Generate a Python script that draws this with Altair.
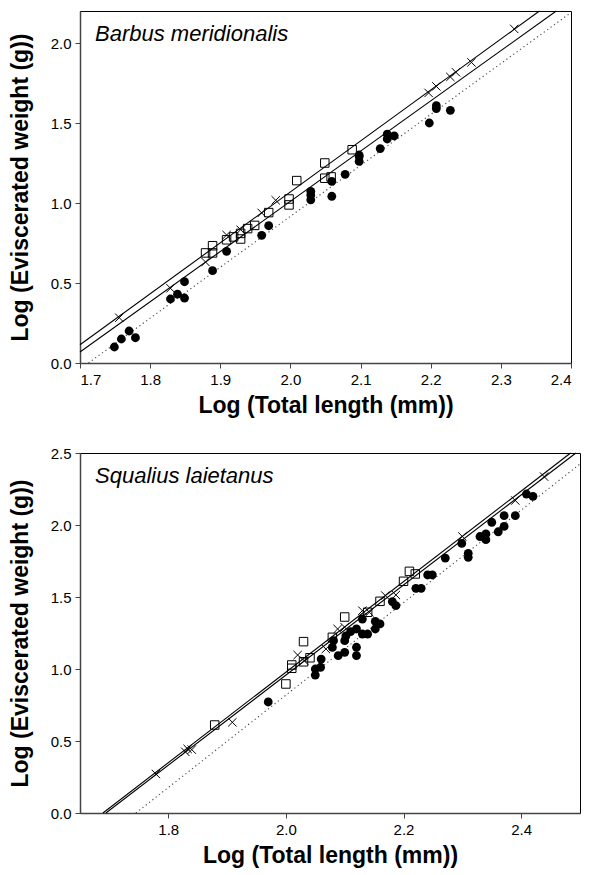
import altair as alt
import pandas as pd

# ---------------- Top panel: Barbus meridionalis ----------------
top_title = "Barbus meridionalis"
top_x_ticks = [1.7, 1.8, 1.9, 2.0, 2.1, 2.2, 2.3, 2.4]
top_y_ticks = [0.0, 0.5, 1.0, 1.5, 2.0]
top_x_domain = [1.7, 2.4]
top_y_domain = [0.0, 2.2]

top_circle_x = [1.749, 1.759, 1.770, 1.779, 1.829, 1.839, 1.849, 1.849, 1.889, 1.909,
                1.959, 1.969, 2.029, 2.029, 2.029, 2.059, 2.059, 2.078, 2.098, 2.098,
                2.098, 2.128, 2.138, 2.138, 2.148, 2.198, 2.208, 2.208, 2.228]
top_circle_y = [0.100, 0.150, 0.200, 0.158, 0.400, 0.430, 0.406, 0.508, 0.577, 0.698,
                0.798, 0.858, 1.073, 1.050, 1.020, 1.135, 1.042, 1.179, 1.300, 1.290,
                1.260, 1.340, 1.430, 1.400, 1.420, 1.500, 1.608, 1.590, 1.579]

top_square_x = [1.879, 1.889, 1.889, 1.909, 1.919, 1.929, 1.929, 1.939, 1.949, 1.969,
                1.998, 1.998, 2.009, 2.049, 2.049, 2.058, 2.088]
top_square_y = [0.688, 0.733, 0.688, 0.770, 0.788, 0.775, 0.810, 0.840, 0.860, 0.940,
                1.025, 0.988, 1.140, 1.250, 1.155, 1.163, 1.333]

top_cross_x = [1.756, 1.829, 1.879, 1.909, 1.929, 1.959, 1.979, 2.197, 2.208, 2.228,
               2.236, 2.258, 2.319]
top_cross_y = [0.283, 0.467, 0.631, 0.800, 0.833, 0.938, 1.017, 1.688, 1.729, 1.788,
               1.817, 1.879, 2.088]

# regression lines (end points, in data units)
top_line1_x = [1.700, 2.355]
top_line1_y = [0.114, 2.200]
top_line2_x = [1.700, 2.379]
top_line2_y = [0.069, 2.200]
top_dot_x = [1.712, 2.400]
top_dot_y = [0.000, 2.190]

# ---------------- Bottom panel: Squalius laietanus ----------------
bot_title = "Squalius laietanus"
bot_x_ticks = [1.8, 2.0, 2.2, 2.4]
bot_y_ticks = [0.0, 0.5, 1.0, 1.5, 2.0, 2.5]
bot_x_domain = [1.65, 2.5]
bot_y_domain = [0.0, 2.5]

bot_circle_x = [1.970, 2.050, 2.050, 2.059, 2.060, 2.079, 2.081, 2.089, 2.100, 2.100,
                2.102, 2.110, 2.120, 2.120, 2.120, 2.130, 2.130, 2.139, 2.152, 2.160,
                2.152, 2.181, 2.187, 2.221, 2.230, 2.241, 2.249, 2.271, 2.299, 2.310,
                2.310, 2.330, 2.340, 2.340, 2.350, 2.361, 2.371, 2.371, 2.390, 2.409,
                2.420]
bot_circle_y = [0.771, 0.958, 1.000, 1.012, 1.069, 1.150, 1.197, 1.093, 1.116, 1.197,
                1.230, 1.259, 1.278, 1.151, 1.093, 1.347, 1.243, 1.243, 1.278, 1.313,
                1.330, 1.468, 1.440, 1.560, 1.560, 1.653, 1.653, 1.770, 1.872, 1.803,
                1.776, 1.920, 1.938, 1.898, 2.019, 1.953, 1.990, 2.065, 2.065, 2.215,
                2.199]

bot_square_x = [1.879, 2.000, 2.010, 2.010, 2.030, 2.030, 2.041, 2.079, 2.100, 2.139,
                2.160, 2.200, 2.210, 2.220]
bot_square_y = [0.611, 0.896, 1.028, 1.005, 1.190, 1.050, 1.078, 1.220, 1.361, 1.394,
                1.470, 1.609, 1.678, 1.660]

bot_cross_x = [1.779, 1.829, 1.833, 1.840, 1.909, 2.020, 2.031, 2.068, 2.088, 2.100,
               2.130, 2.142, 2.169, 2.187, 2.300, 2.390, 2.439]
bot_cross_y = [0.271, 0.425, 0.445, 0.440, 0.630, 1.097, 1.058, 1.139, 1.278, 1.290,
               1.405, 1.394, 1.510, 1.514, 1.920, 2.170, 2.336]

bot_line1_x = [1.689, 2.484]
bot_line1_y = [0.000, 2.500]
bot_line2_x = [1.694, 2.493]
bot_line2_y = [0.000, 2.500]
bot_dot_x = [1.745, 2.500]
bot_dot_y = [0.000, 2.424]

X_TITLE = "Log (Total length (mm))"
Y_TITLE = "Log (Eviscerated weight (g))"
CROSS = "M-1,-1L1,1M-1,1L1,-1"


def panel(title, cx, cy, sx, sy, xx, xy, l1x, l1y, l2x, l2y, dx, dy,
          xdom, ydom, xticks, yticks, w, h):
    xs = alt.Scale(domain=xdom, nice=False, zero=False)
    ys = alt.Scale(domain=ydom, nice=False, zero=False)
    xax = alt.Axis(values=xticks, format=".1f", title=X_TITLE)
    yax = alt.Axis(values=yticks, format=".1f", title=Y_TITLE)

    def enc(ch):
        return ch.encode(x=alt.X("x:Q", scale=xs, axis=xax),
                         y=alt.Y("y:Q", scale=ys, axis=yax))

    lines = pd.DataFrame({"x": l1x + l2x, "y": l1y + l2y,
                          "id": ["a"] * len(l1x) + ["b"] * len(l2x)})
    dots = pd.DataFrame({"x": dx, "y": dy})
    circ = pd.DataFrame({"x": cx, "y": cy})
    sq = pd.DataFrame({"x": sx, "y": sy})
    cr = pd.DataFrame({"x": xx, "y": xy})

    l_solid = enc(alt.Chart(lines).mark_line(color="black", strokeWidth=1.1)).encode(detail="id:N")
    l_dot = enc(alt.Chart(dots).mark_line(color="#444", strokeWidth=1.1, strokeDash=[1.2, 3]))
    p_circ = enc(alt.Chart(circ).mark_point(shape="circle", filled=True, color="black",
                                            size=78, opacity=1))
    p_sq = enc(alt.Chart(sq).mark_point(shape="square", filled=False, color="black",
                                        size=72, strokeWidth=1, opacity=1))
    p_cr = enc(alt.Chart(cr).mark_point(shape=CROSS, filled=False, color="black",
                                        size=70, strokeWidth=1, opacity=1))
    label = alt.Chart(pd.DataFrame({"t": [title]})).mark_text(
        font="Liberation Sans", fontStyle="italic", fontSize=22, align="left",
        baseline="alphabetic", color="black"
    ).encode(x=alt.value(15), y=alt.value(30), text="t:N")

    return alt.layer(l_dot, l_solid, p_sq, p_circ, p_cr, label).properties(width=w, height=h)


top = panel(top_title, top_circle_x, top_circle_y, top_square_x, top_square_y,
            top_cross_x, top_cross_y, top_line1_x, top_line1_y, top_line2_x, top_line2_y,
            top_dot_x, top_dot_y, top_x_domain, top_y_domain, top_x_ticks, top_y_ticks,
            491, 352)
bot = panel(bot_title, bot_circle_x, bot_circle_y, bot_square_x, bot_square_y,
            bot_cross_x, bot_cross_y, bot_line1_x, bot_line1_y, bot_line2_x, bot_line2_y,
            bot_dot_x, bot_dot_y, bot_x_domain, bot_y_domain, bot_x_ticks, bot_y_ticks,
            500, 360)

chart = alt.vconcat(top, bot, spacing=27).resolve_scale(
    x="independent", y="independent"
).properties(
    padding={"left": 8, "top": 8, "right": 0, "bottom": 0}
).configure_view(
    stroke="black", strokeWidth=1
).configure_axis(
    grid=False,
    domainColor="#444", domainWidth=1.5,
    tickColor="#444", tickSize=5, tickWidth=1,
    labelFont="Liberation Sans", labelFontSize=15, labelColor="black", labelPadding=4,
    titleFont="Liberation Sans", titleFontSize=23, titleFontWeight="bold", titleColor="black",
    titlePadding=7
).configure_axisY(
    titlePadding=18
)

chart.save("out.html", embed_options={"renderer": "svg", "actions": False})
